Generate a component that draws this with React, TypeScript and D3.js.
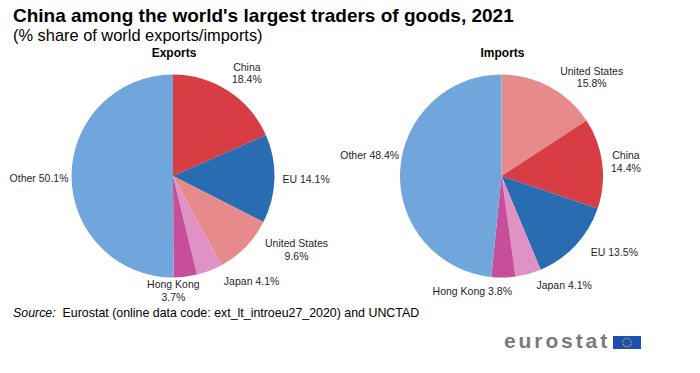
import React, { useEffect, useRef } from 'react';
import * as d3 from 'd3';

// chart data
const exportNames = ['China', 'EU', 'United States', 'Japan', 'Hong Kong', 'Other'];
const exportValues = [18.4, 14.1, 9.6, 4.1, 3.7, 50.1];
const exportWrap = [true, false, true, false, true, false];

const importNames = ['United States', 'China', 'EU', 'Japan', 'Hong Kong', 'Other'];
const importValues = [15.8, 14.4, 13.5, 4.1, 3.8, 48.4];
const importWrap = [true, true, false, false, false, false];

// label nudges (px) on top of the automatic outside placement, like Excel's own spreading
const exportNudge: [number, number][] = [[7, -2], [2, 0], [24, -10], [30, -1], [-16, -4], [3, 2]];
const importNudge: [number, number][] = [[24, 7], [3, 1], [17, -1], [27, 0], [-32, 2], [5, -15]];

const sliceColors: Record<string, string> = {
  China: '#d73d42',
  EU: '#2a6cb2',
  'United States': '#e68a8c',
  Japan: '#df92c3',
  'Hong Kong': '#c74e9b',
  Other: '#71a6dd',
};

const W = 700;
const H = 373;
const font = 'Arial, "Liberation Sans", sans-serif';

const App = () => {
  const svgRef = useRef<SVGSVGElement>(null);

  useEffect(() => {
    if (!svgRef.current) return;
    const svg = d3.select(svgRef.current);
    svg.selectAll('*').remove();

    svg.append('rect').attr('width', W).attr('height', H).attr('fill', '#ffffff');

    // titles
    svg.append('text')
      .attr('x', 13).attr('y', 22)
      .attr('font-family', font).attr('font-weight', 'bold').attr('font-size', 19)
      .attr('fill', '#000')
      .text("China among the world's largest traders of goods, 2021");
    svg.append('text')
      .attr('x', 13).attr('y', 41)
      .attr('font-family', font).attr('font-size', 16.4)
      .attr('fill', '#000')
      .text('(% share of world exports/imports)');

    const radius = 101.5;
    const labelGap = 6;
    const lineH = 12.5;
    const labelSize = 10.5;

    const drawPie = (
      title: string, names: string[], values: number[], wrap: boolean[],
      nudge: [number, number][], cx: number, cy: number,
    ) => {
      const rows = names.map((n, i) => ({ name: n, value: values[i], wrap: wrap[i] }));
      const pie = d3.pie<typeof rows[0]>().sort(null).value(d => d.value);
      const arc = d3.arc<d3.PieArcDatum<typeof rows[0]>>().innerRadius(0).outerRadius(radius);
      const arcs = pie(rows);

      const g = svg.append('g').attr('transform', `translate(${cx},${cy})`);

      svg.append('text')
        .attr('x', cx + 1).attr('y', 57)
        .attr('text-anchor', 'middle')
        .attr('font-family', font).attr('font-weight', 'bold').attr('font-size', 12)
        .attr('fill', '#000')
        .text(title);

      g.selectAll('path.slice')
        .data(arcs)
        .join('path')
        .attr('class', 'slice')
        .attr('d', arc)
        .attr('fill', d => sliceColors[d.data.name]);

      // labels: measure, then place just outside the slice edge
      arcs.forEach((d, idx) => {
        const a = (d.startAngle + d.endAngle) / 2;
        const lines = d.data.wrap
          ? [d.data.name, `${d.data.value.toFixed(1)}%`]
          : [`${d.data.name} ${d.data.value.toFixed(1)}%`];
        const t = g.append('text')
          .attr('text-anchor', 'middle')
          .attr('font-family', font).attr('font-size', labelSize)
          .attr('fill', '#1f1f1f');
        lines.forEach(l => {
          t.append('tspan').attr('x', 0).attr('y', 0).text(l);
        });
        let w = 0;
        t.selectAll<SVGTSpanElement, unknown>('tspan').each(function () {
          w = Math.max(w, this.getComputedTextLength());
        });
        const h = lines.length * lineH;
        const R = radius + labelGap;
        const x = R * Math.sin(a) + (w / 2) * Math.sin(a) + nudge[idx][0];
        const y = -R * Math.cos(a) - (h / 2) * Math.cos(a) + nudge[idx][1];
        const top = y - h / 2;
        t.selectAll('tspan')
          .attr('x', x)
          .attr('y', (_, i) => top + lineH * 0.78 + i * lineH);
      });
    };

    drawPie('Exports', exportNames, exportValues, exportWrap, exportNudge, 173, 176);
    drawPie('Imports', importNames, importValues, importWrap, importNudge, 501.5, 176);

    // source
    const src = svg.append('text')
      .attr('x', 13).attr('y', 317)
      .attr('font-family', font).attr('font-size', 12.4)
      .attr('fill', '#000');
    src.append('tspan').attr('font-style', 'italic').text('Source:');
    src.append('tspan').attr('xml:space', 'preserve').text('  Eurostat (online data code: ext_lt_introeu27_2020) and UNCTAD');

    // eurostat logo
    svg.append('text')
      .attr('x', 504).attr('y', 348)
      .attr('font-family', font).attr('font-weight', 'bold').attr('font-size', 21)
      .attr('letter-spacing', 2.9)
      .attr('fill', '#7a7a7a')
      .text('eurostat');
    const flag = svg.append('g').attr('transform', 'translate(613,336)');
    flag.append('rect').attr('width', 28).attr('height', 13).attr('fill', '#1e4fb0');
    d3.range(12).forEach(i => {
      const a = (i / 12) * Math.PI * 2;
      flag.append('circle')
        .attr('cx', 14 + 4.3 * Math.sin(a))
        .attr('cy', 6.5 - 4.3 * Math.cos(a))
        .attr('r', 0.6)
        .attr('fill', '#f2d51c');
    });
  }, []);

  return (
    <svg
      ref={svgRef}
      width={W}
      height={H}
      style={{ position: 'absolute', left: 0, top: 0, display: 'block' }}
    />
  );
};

export default App;
